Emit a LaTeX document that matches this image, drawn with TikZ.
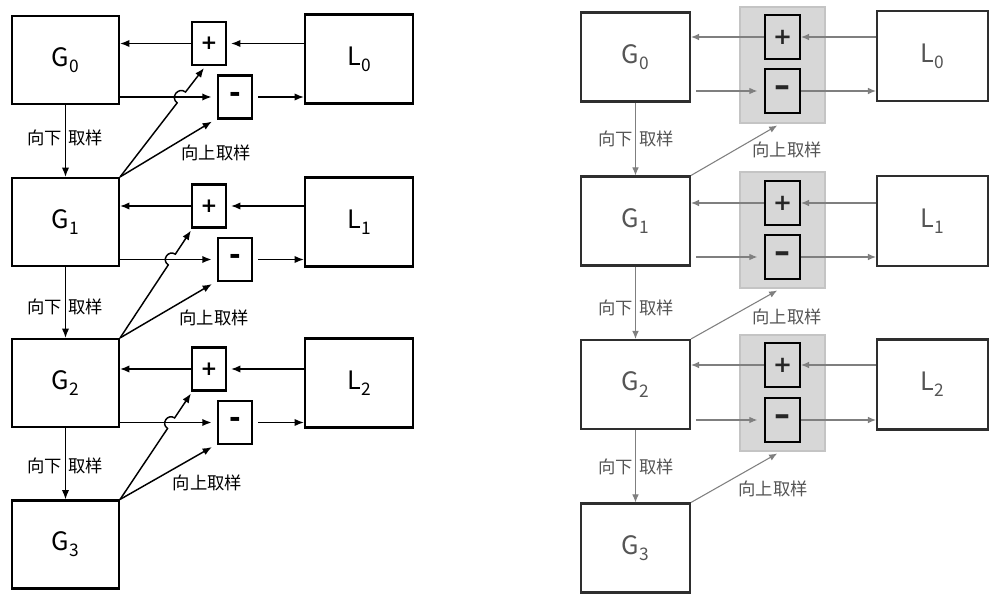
\documentclass[tikz,border=0pt]{standalone}
\usepackage{fontspec}
\setmainfont{Noto Sans CJK SC}
\newfontfamily\symf{DejaVu Sans}
\usetikzlibrary{arrows.meta,calc}
\newcommand\mysub[1]{\raisebox{-0.45ex}{\fontsize{13}{13}\selectfont #1}}
\definecolor{rline}{HTML}{7F7F7F}
\definecolor{rtext}{HTML}{555555}
\definecolor{rbox}{HTML}{2E2E2E}
\definecolor{gfill}{HTML}{D7D7D7}
\definecolor{gedge}{HTML}{C4C4C4}
\begin{document}
\begin{tikzpicture}[x=0.75pt,y=-0.75pt,
  lbig/.style={draw, line width=1.6pt, inner sep=0pt, font=\fontsize{19}{20}\selectfont},
  lg/.style={lbig, minimum width=80.25pt, minimum height=66pt},
  ll/.style={lbig, minimum width=81pt, minimum height=66.75pt},
  lop/.style={draw, line width=1.6pt, inner sep=0pt, minimum width=25.5pt, minimum height=32.25pt, font=\symf\bfseries\fontsize{15}{16}\selectfont},
  lmin/.style={lop, font=\symf\bfseries\fontsize{21}{22}\selectfont},
  la/.style={line width=1.1pt, -{Latex[length=7pt,width=5.5pt]}},
  lab/.style={inner sep=0pt, font=\fontsize{13}{14}\selectfont},
  rbig/.style={draw=rbox, line width=1.6pt, inner sep=0pt, text=rtext, font=\fontsize{19}{20}\selectfont},
  rg/.style={rbig, minimum width=81.75pt, minimum height=66.75pt},
  rl/.style={rbig, minimum width=83.25pt, minimum height=67.5pt},
  rq/.style={draw=gedge, fill=gfill, line width=0.8pt, minimum width=63.75pt, minimum height=87pt, inner sep=0pt},
  rop/.style={draw=black, fill=gfill, line width=1.6pt, inner sep=0pt, minimum width=26.25pt, minimum height=33pt, text=black!85, font=\symf\bfseries\fontsize{17}{18}\selectfont},
  rmin/.style={rop, font=\symf\bfseries\fontsize{24}{25}\selectfont},
  ra/.style={draw=rline, line width=0.8pt, -{Latex[length=6pt,width=5pt]}},
  rlab/.style={lab, text=rtext}
]
\useasboundingbox (0,0) rectangle (1000,602);

% ---------------- left diagram ----------------
\node[lg] (G0) at (65.5,60) {G\mysub{0}};
\node[lg] (G1) at (65.5,222) {G\mysub{1}};
\node[lg] (G2) at (65.5,383) {G\mysub{2}};
\node[lg] (G3) at (65.5,544.5) {G\mysub{3}};
\node[ll] (L0) at (359,59) {L\mysub{0}};
\node[ll] (L1) at (359,222) {L\mysub{1}};
\node[ll] (L2) at (359,383) {L\mysub{2}};
\node[lop] (P0) at (209,43.5) {+};
\node[lmin] (M0) at (235,97) {-};
\node[lop] (P1) at (209,206) {+};
\node[lmin] (M1) at (235,259.5) {-};
\node[lop] (P2) at (209,369) {+};
\node[lmin] (M2) at (235,422.5) {-};

\foreach \i/\j in {0/1,1/2,2/3}{
  \draw[la] (P\i.west) -- (P\i.west -| G\i.east);
  \draw[la] (P\i.east -| L\i.west) -- ([xshift=3pt]P\i.east);
  \draw[la] (M\i.west -| G\i.east) -- ([xshift=-4pt]M\i.west);
  \draw[la] ([xshift=4pt]M\i.east) -- (M\i.east -| L\i.west);
  \draw[la] (G\i.south) -- (G\j.north);
  \draw[la] (G\j.north east) -- ([xshift=-3.75pt,yshift=-1.5pt]M\i.south west);
}
\coordinate (e0) at ([xshift=-3.75pt,yshift=-1.5pt]P0.south);
\coordinate (e1) at ([yshift=-1.5pt]P1.south west);
\coordinate (e2) at ([yshift=-1.5pt]P2.south west);
\draw[la] (G1.north east) -- ($(G1.north east)!0.68!(e0)$) to[bend left=90,looseness=1.7] ($(G1.north east)!0.78!(e0)$) -- (e0);
\draw[la] (G2.north east) -- ($(G2.north east)!0.68!(e1)$) to[bend left=90,looseness=1.7] ($(G2.north east)!0.78!(e1)$) -- (e1);
\draw[la] (G3.north east) -- ($(G3.north east)!0.67!(e2)$) to[bend left=90,looseness=1.7] ($(G3.north east)!0.77!(e2)$) -- (e2);

\node[lab] (d0) at (65,138) {向下\hspace{5pt}取样};
\node[lab] (d1) at (65,307) {向下\hspace{5pt}取样};
\node[lab] (d2) at (65,466) {向下\hspace{5pt}取样};
\node[lab] (u0) at (216,153) {向上取样};
\node[lab] (u1) at (214,318) {向上取样};
\node[lab] (u2) at (207.5,483) {向上取样};

% ---------------- right diagram ----------------
\node[rq] (Q0) at (782.5,65) {};
\node[rq] (Q1) at (782.5,230) {};
\node[rq] (Q2) at (782.5,393) {};
\node[rg] (RG0) at (635.5,57) {G\mysub{0}};
\node[rg] (RG1) at (635.5,221) {G\mysub{1}};
\node[rg] (RG2) at (635.5,384.5) {G\mysub{2}};
\node[rg] (RG3) at (635.5,548) {G\mysub{3}};
\node[rl] (RL0) at (932.5,56) {L\mysub{0}};
\node[rl] (RL1) at (932.5,221) {L\mysub{1}};
\node[rl] (RL2) at (932.5,384.5) {L\mysub{2}};
\node[rop] (RP0) at (782.5,37) {+};
\node[rmin] (RM0) at (782.5,91) {–};
\node[rop] (RP1) at (782.5,203) {+};
\node[rmin] (RM1) at (782.5,257) {–};
\node[rop] (RP2) at (782.5,365) {+};
\node[rmin] (RM2) at (782.5,420) {–};

\foreach \i/\j in {0/1,1/2,2/3}{
  \draw[ra] (RP\i.west) -- (RP\i.west -| RG\i.east);
  \draw[ra] (RP\i.east -| RL\i.west) -- (RP\i.east);
  \draw[ra] ([xshift=3.75pt]RM\i.west -| RG\i.east) -- ([xshift=-5pt]RM\i.west);
  \draw[ra] (RM\i.east) -- (RM\i.east -| RL\i.west);
  \draw[ra] (RG\i.south) -- (RG\j.north);
  \draw[ra] (RG\j.north east) -- ([xshift=-4pt,yshift=-1.5pt]Q\i.south);
}
\node[rlab] (rd0) at (636,139) {向下\hspace{5pt}取样};
\node[rlab] (rd1) at (636,308) {向下\hspace{5pt}取样};
\node[rlab] (rd2) at (636,467) {向下\hspace{5pt}取样};
\node[rlab] (ru0) at (787,150) {向上取样};
\node[rlab] (ru1) at (787,317) {向上取样};
\node[rlab] (ru2) at (773,489) {向上取样};
\end{tikzpicture}
\end{document}
